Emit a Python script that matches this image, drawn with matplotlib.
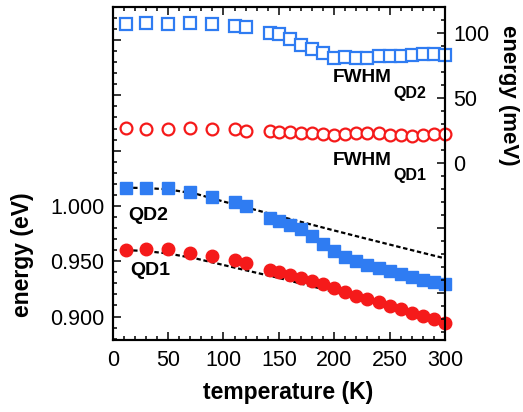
import matplotlib
matplotlib.use('Agg')
import matplotlib.pyplot as plt
from matplotlib.ticker import MultipleLocator, FuncFormatter
import numpy as np

plt.rcParams['font.family'] = ['Liberation Sans', 'DejaVu Sans']

# temperature (K)
temp = [12, 30, 50, 70, 90, 110, 120, 142, 150, 160, 170, 180, 190, 200,
        210, 220, 230, 240, 250, 260, 270, 280, 290, 300]

# peak energies (eV)
e_qd2 = [1.0159, 1.0159, 1.0159, 1.0123, 1.0084, 1.0035, 1.0000, 0.9895,
         0.9866, 0.9830, 0.9789, 0.9725, 0.9656, 0.9590, 0.9541, 0.9503,
         0.9466, 0.9440, 0.9414, 0.9385, 0.9360, 0.9333, 0.9310, 0.9294]
e_qd1 = [0.9601, 0.9608, 0.9608, 0.9571, 0.9547, 0.9514, 0.9488, 0.9424,
         0.9405, 0.9375, 0.9345, 0.9318, 0.9292, 0.9258, 0.9224, 0.9188,
         0.9158, 0.9128, 0.9092, 0.9065, 0.9031, 0.9001, 0.8975, 0.8942]

# linewidths (meV)
fwhm_qd2 = [106.7, 108.0, 106.7, 108.0, 106.7, 105.4, 104.4, 99.8, 99.0,
            95.2, 90.8, 87.8, 84.6, 80.9, 81.8, 80.5, 80.9, 82.0, 82.7,
            82.0, 83.0, 84.1, 84.1, 83.1]
fwhm_qd1 = [27.2, 26.2, 26.2, 27.2, 26.2, 26.2, 24.8, 24.8, 23.8, 23.8,
            22.8, 22.8, 22.3, 21.5, 22.3, 22.8, 22.8, 22.8, 21.5, 21.5,
            20.8, 21.5, 22.3, 22.3]

# fitted curves
fit_t = [12, 30, 50, 75, 100, 125, 150, 175, 200, 225, 250, 275, 300]
fit_qd2 = [1.0165, 1.0162, 1.0150, 1.0110, 1.0040, 0.9975, 0.9908, 0.9843,
           0.9778, 0.9714, 0.9651, 0.9588, 0.9526]
fit_qd1 = [0.9601, 0.9592, 0.9570, 0.9525, 0.9466, 0.9407, 0.9349, 0.9285,
           0.9223, 0.9160, 0.9092, 0.9024, 0.8952]

blue = '#2f7cf2'
red = '#f51a1a'

fig = plt.figure(figsize=(5.23, 4.12), dpi=100)
ax = fig.add_axes([112.7/523, 1-340/412, 332.3/523, 332.7/412])
ax2 = ax.twinx()

ax.plot(fit_t, fit_qd2, color='black', lw=1.6, dashes=(2, 1.2), zorder=2)
ax.plot(fit_t, fit_qd1, color='black', lw=1.6, dashes=(2, 1.2), zorder=2)
ax.plot(temp, e_qd2, 's', color=blue, ms=9, mec=blue, clip_on=False, zorder=3)
ax.plot(temp, e_qd1, 'o', color=red, ms=9, mec=red, clip_on=False, zorder=3)

ax2.plot(temp, fwhm_qd2, 's', mfc='white', mec=blue, mew=1.6, ms=8.5, clip_on=False)
ax2.plot(temp, fwhm_qd1, 'o', mfc='white', mec=red, mew=1.6, ms=8.5, clip_on=False)

ax.set_xlim(0, 300)
ax.set_ylim(0.8788, 1.1796)
ax2.set_ylim(-136, 119.8)

ax.xaxis.set_major_locator(MultipleLocator(50))
ax.xaxis.set_minor_locator(MultipleLocator(10))
ax.yaxis.set_major_locator(MultipleLocator(0.05))
ax.yaxis.set_minor_locator(MultipleLocator(0.01))
ax.yaxis.set_major_formatter(FuncFormatter(lambda v, p: f'{v:.3f}' if v < 1.01 else ''))
ax2.yaxis.set_major_locator(MultipleLocator(50))
ax2.yaxis.set_minor_locator(MultipleLocator(10))
ax2.yaxis.set_major_formatter(FuncFormatter(lambda v, p: f'{v:.0f}' if v > -1 else ''))

ax.tick_params(which='both', direction='in', top=True, right=False, width=1.1,
               labelsize=15.5)
ax.tick_params(which='major', length=5.5)
ax.tick_params(which='minor', length=3)
ax.tick_params(axis='x', pad=7)
ax.tick_params(axis='y', pad=6)
ax2.tick_params(which='both', direction='in', width=1.1, labelsize=15.5, pad=6)
ax2.tick_params(which='major', length=5.5)
ax2.tick_params(which='minor', length=3)

for a in (ax, ax2):
    for s in a.spines.values():
        s.set_linewidth(1.5)

ax.text(14, 0.9918, 'QD2', fontsize=14, fontweight='bold', va='center')
ax.text(15.5, 0.942, 'QD1', fontsize=14, fontweight='bold', va='center')
ax2.text(199, 66, 'FWHM', fontsize=13.7, fontweight='bold', va='center')
ax2.text(253, 53.8, 'QD2', fontsize=11.5, fontweight='bold', va='center')
ax2.text(199, 2.3, 'FWHM', fontsize=13.7, fontweight='bold', va='center')
ax2.text(253, -9.2, 'QD1', fontsize=11.5, fontweight='bold', va='center')

fig.text(288.5/523, 1-392/412, 'temperature (K)', fontsize=16.5,
         fontweight='bold', ha='center', va='center')
fig.text(22/523, 1-255/412, 'energy (eV)', fontsize=16.5, fontweight='bold',
         ha='center', va='center', rotation=90)
fig.text(508/523, 1-95/412, 'energy (meV)', fontsize=16, fontweight='bold',
         ha='center', va='center', rotation=270)

fig.savefig('out.png', dpi=100)
